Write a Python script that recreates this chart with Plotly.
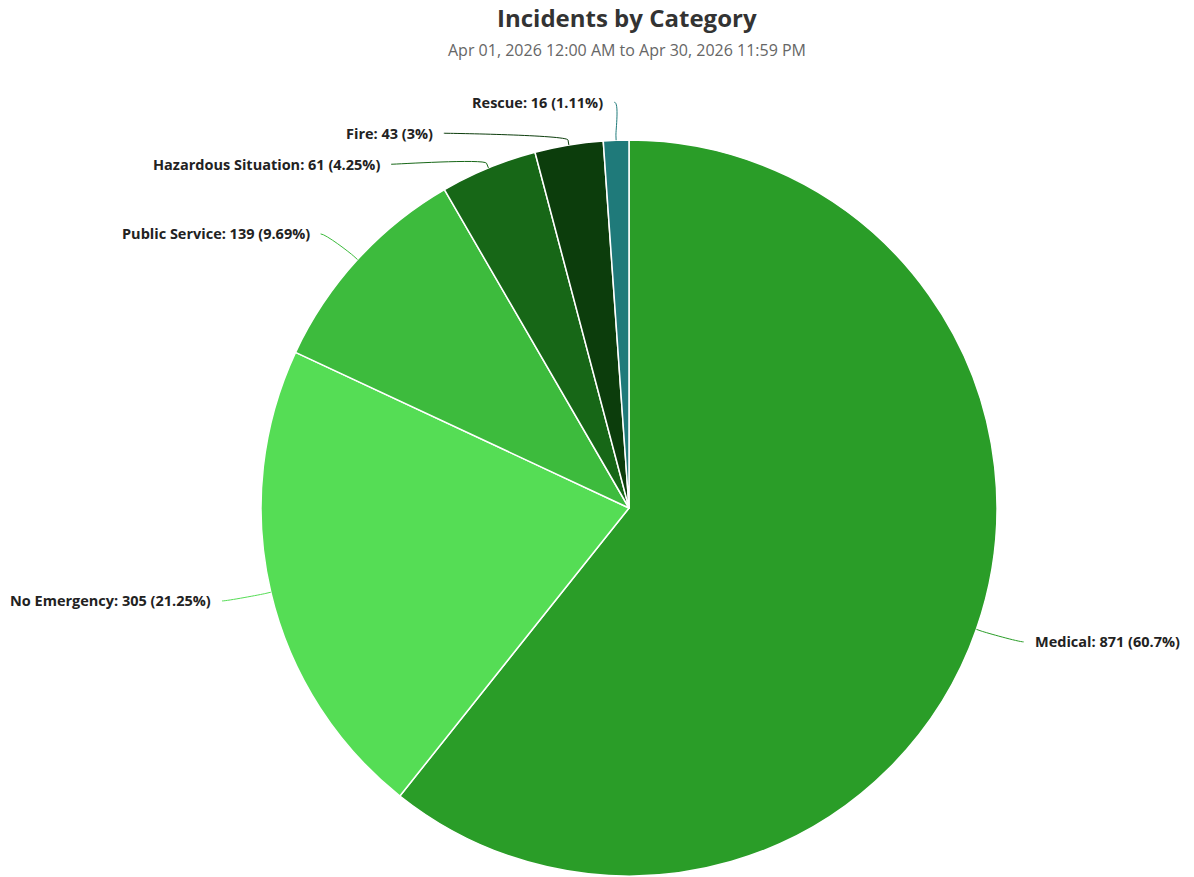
import math
import plotly.graph_objects as go

# ---- data ----
categories = ["Medical", "No Emergency", "Public Service", "Hazardous Situation", "Fire", "Rescue"]
counts = [871, 305, 139, 61, 43, 16]
colors = ["#2a9d28", "#55dd55", "#3dbb3d", "#176717", "#0c3d0c", "#1f7a7a"]
title_text = "Incidents by Category"
subtitle_text = "Apr 01, 2026 12:00 AM to Apr 30, 2026 11:59 PM"

# ---- layout constants (pixels) ----
W, H = 1194, 877
CX, CY, R = 629, 508, 368
LAB_RY, LAB_RX = 406, 418
GAP, PAD, BREAK = 31, 9, 5
FONT = "Open Sans"

total = sum(counts)


def fmt_pct(v):
    p = round(v / total * 100, 2)
    return f"{p:.2f}".rstrip("0").rstrip(".")


def px(x):
    return x / W


def py(y):
    return 1 - y / H


fig = go.Figure(go.Pie(
    labels=categories,
    values=counts,
    sort=False,
    direction="clockwise",
    rotation=0,
    textinfo="none",
    marker=dict(colors=colors, line=dict(color="#ffffff", width=1.5)),
    domain=dict(x=[px(CX - R), px(CX + R)], y=[py(CY + R), py(CY - R)]),
    showlegend=False,
    hovertemplate="%{label}: %{value}<extra></extra>",
))

# compute label anchors from the data
items = []
cum = 0
for i, v in enumerate(counts):
    mid = (cum + v / 2) / total * 2 * math.pi
    cum += v
    s, c = math.sin(mid), math.cos(mid)
    side = 1 if s >= 0 else -1
    items.append(dict(i=i, s=s, c=c, side=side,
                      touch=(CX + R * s, CY - R * c),
                      brk=(CX + (R + BREAK) * s, CY - (R + BREAK) * c),
                      ny=CY - LAB_RY * c))

for side in (-1, 1):
    group = sorted([it for it in items if it["side"] == side], key=lambda it: it["ny"])
    prev = None
    for it in group:
        y = it["ny"] if prev is None else max(it["ny"], prev + GAP)
        pushed = prev is not None and y > it["ny"]
        if pushed:
            x = CX + side * math.sqrt(max(LAB_RX ** 2 - (y - CY) ** 2, 0))
        else:
            x = CX + LAB_RX * it["s"]
        it["lab"] = (x, y)
        prev = y

shapes = []
annotations = []
for it in items:
    i = it["i"]
    lx, ly = it["lab"]
    bx, by = it["brk"]
    tx, ty = it["touch"]
    c1x = lx - it["side"] * 5
    c2x, c2y = 2 * bx - tx, 2 * by - ty
    path = (f"M {px(lx)},{py(ly)} C {px(c1x)},{py(ly)} {px(c2x)},{py(c2y)} {px(bx)},{py(by)} "
            f"L {px(tx)},{py(ty)}")
    shapes.append(dict(type="path", xref="paper", yref="paper", path=path,
                       line=dict(color=colors[i], width=1), layer="above"))
    annotations.append(dict(
        x=px(lx + it["side"] * PAD), y=py(ly), xref="paper", yref="paper",
        xanchor="left" if it["side"] > 0 else "right", yanchor="middle",
        text=f"{categories[i]}: {counts[i]} ({fmt_pct(counts[i])}%)",
        showarrow=False,
        font=dict(family=FONT, size=14.5, color="#222222", weight="bold"),
    ))

annotations.append(dict(x=px(627), y=py(17), xref="paper", yref="paper",
                        xanchor="center", yanchor="middle", showarrow=False,
                        text=title_text,
                        font=dict(family=FONT, size=24, color="#333333", weight="bold")))
annotations.append(dict(x=px(627), y=py(50), xref="paper", yref="paper",
                        xanchor="center", yanchor="middle", showarrow=False,
                        text=subtitle_text,
                        font=dict(family=FONT, size=16, color="#666666")))

fig.update_layout(
    width=W, height=H, autosize=False,
    margin=dict(l=0, r=0, t=0, b=0),
    paper_bgcolor="#ffffff", plot_bgcolor="#ffffff",
    shapes=shapes, annotations=annotations,
    font=dict(family=FONT),
)

fig.write_html("out.html", config={"displayModeBar": False},
               post_script="document.body.style.margin='0';document.body.style.overflow='hidden';")
